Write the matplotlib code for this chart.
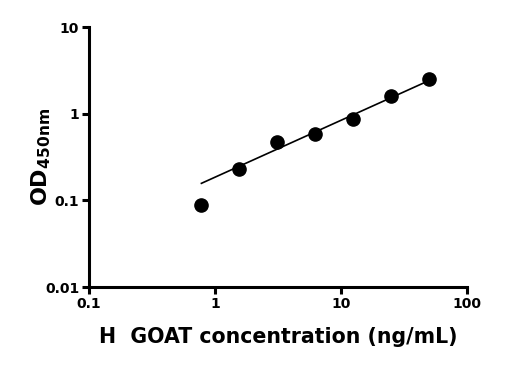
import numpy as np
import matplotlib.pyplot as plt

# standard curve data
conc = [0.78, 1.56, 3.125, 6.25, 12.5, 25, 50]
od = [0.088, 0.23, 0.47, 0.58, 0.87, 1.58, 2.48]
x_ticks = [0.1, 1, 10, 100]
x_tick_labels = ['0.1', '1', '10', '100']
y_ticks = [0.01, 0.1, 1, 10]
y_tick_labels = ['0.01', '0.1', '1', '10']

# linear fit in log-log space (lowest point left out of the fit)
k, b = np.polyfit(np.log10(conc[1:]), np.log10(od[1:]), 1)
x_fit = np.array([conc[0], conc[-1]])
y_fit = 10 ** (k * np.log10(x_fit) + b)

fig = plt.figure(figsize=(5.16, 3.70), dpi=100)
ax = fig.add_axes([0.1725, 0.2243, 0.7325, 0.7027])

ax.plot(x_fit, y_fit, color='black', linewidth=1.2)
ax.plot(conc, od, 'o', color='black', markersize=9.5)

ax.set_xscale('log')
ax.set_yscale('log')
ax.set_xlim(0.1, 100)
ax.set_ylim(0.01, 10)
ax.set_xticks(x_ticks)
ax.set_xticklabels(x_tick_labels)
ax.set_yticks(y_ticks)
ax.set_yticklabels(y_tick_labels)
ax.minorticks_off()

for s in ['top', 'right']:
    ax.spines[s].set_visible(False)
for s in ['left', 'bottom']:
    ax.spines[s].set_linewidth(2.2)
ax.tick_params(width=2.2, length=5, labelsize=10, pad=2)
for lbl in ax.get_xticklabels() + ax.get_yticklabels():
    lbl.set_fontweight('bold')

plt.rcParams['mathtext.fontset'] = 'dejavusans'
ax.set_xlabel('H  GOAT concentration (ng/mL)', fontsize=14.8, fontweight='bold', labelpad=12)
ax.set_ylabel(r'OD$_{\mathbf{450nm}}$', fontsize=16, fontweight='bold')
ax.yaxis.set_label_coords(-0.095, 0.5)

fig.savefig('out.png', dpi=100)
